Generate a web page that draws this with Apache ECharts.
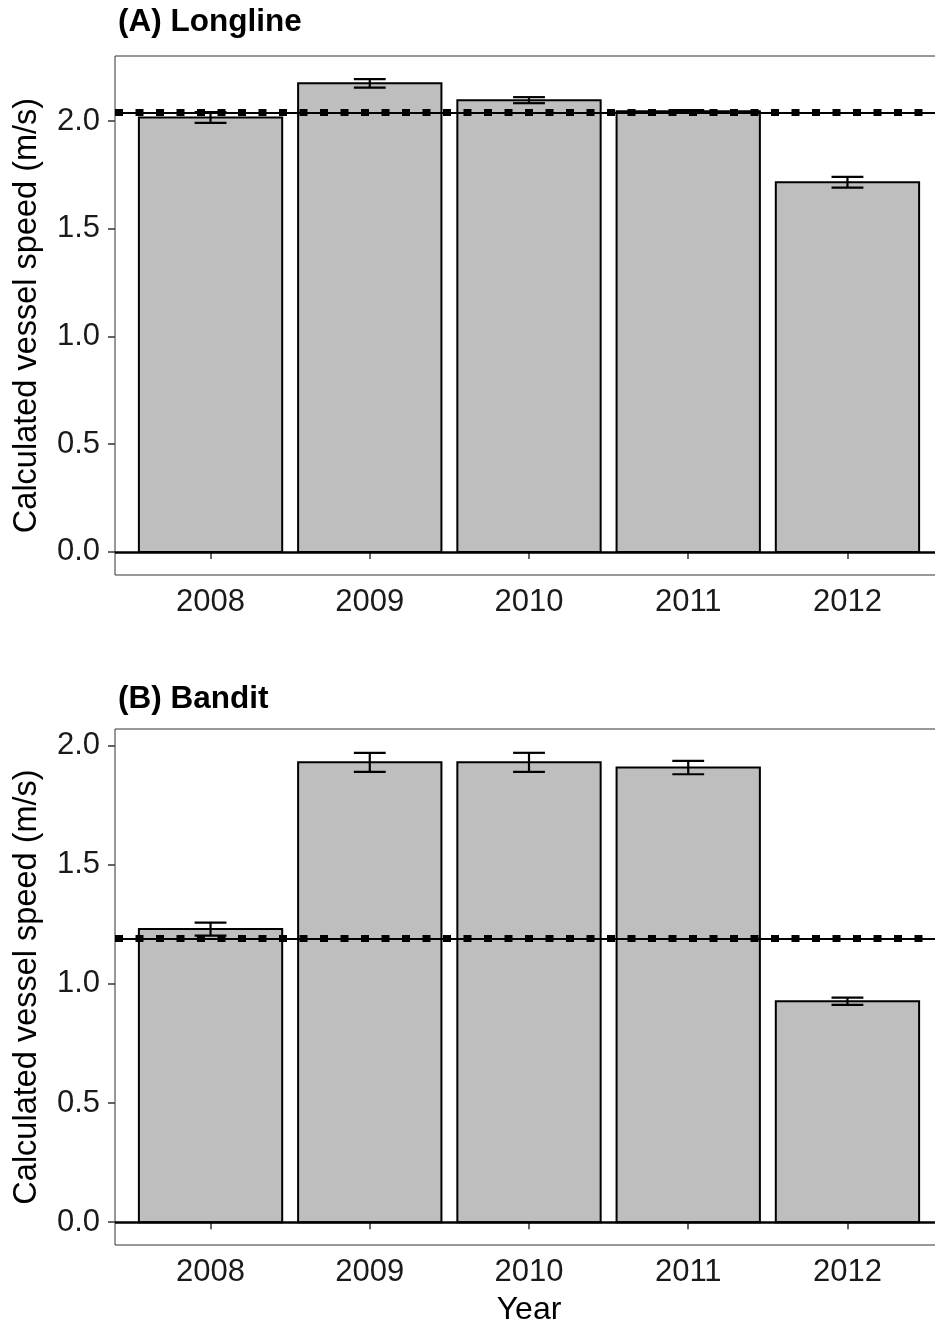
<!DOCTYPE html>
<html>
<head>
<meta charset="utf-8">
<script src="https://cdn.jsdelivr.net/npm/echarts@6/dist/echarts.min.js"></script>
<style>
  html, body { margin: 0; padding: 0; background: #fff; overflow: hidden; }
  /* the plot runs a few px past the right edge of the picture, as in the original */
  #chart { width: 945px; height: 1327px; }
</style>
</head>
<body>
<div id="chart"></div>
<script>
// data
var years = [2008, 2009, 2010, 2011, 2012];
var yTicks = [0, 0.5, 1.0, 1.5, 2.0];

// (A) Longline
var longlineSpeed = [2.017, 2.175, 2.097, 2.045, 1.716];
var longlineSE = [0.025, 0.02, 0.014, 0.006, 0.025];
var longlineMean = 2.044;

// (B) Bandit
var banditSpeed = [1.230, 1.930, 1.930, 1.908, 0.927];
var banditSE = [0.027, 0.04, 0.04, 0.028, 0.015];
var banditMean = 1.189;

var FONT = "'Liberation Sans', Arial, sans-serif";
var chart = echarts.init(document.getElementById('chart'));

// ggplot-like bars (width 0.9) drawn with the axis scales
function barSeries(idx, vals) {
  return {
    type: 'custom',
    xAxisIndex: idx,
    yAxisIndex: idx,
    z: 2,
    data: years.map(function (y, i) { return [y, vals[i]]; }),
    renderItem: function (params, api) {
      var x = api.value(0), v = api.value(1);
      var p0 = api.coord([x - 0.45, v]);
      var p1 = api.coord([x + 0.45, 0]);
      return {
        type: 'rect',
        shape: { x: p0[0], y: p0[1], width: p1[0] - p0[0], height: p1[1] - p0[1] },
        style: { fill: '#bebebe', stroke: '#000', lineWidth: 2 }
      };
    }
  };
}

// error bars + zero line + dashed overall mean
function errSeries(idx, vals, se, mean) {
  return {
    type: 'custom',
    xAxisIndex: idx,
    yAxisIndex: idx,
    z: 3,
    data: years.map(function (y, i) { return [y, vals[i], se[i]]; }),
    renderItem: function (params, api) {
      var x = api.value(0), v = api.value(1), e = api.value(2);
      var top = api.coord([x, v + e]);
      var bot = api.coord([x, v - e]);
      var l = api.coord([x - 0.1, v])[0];
      var r = api.coord([x + 0.1, v])[0];
      var st = { stroke: '#000', lineWidth: 2.2 };
      return {
        type: 'group',
        children: [
          { type: 'line', shape: { x1: top[0], y1: top[1], x2: bot[0], y2: bot[1] }, style: st },
          { type: 'line', shape: { x1: l, y1: top[1], x2: r, y2: top[1] }, style: st },
          { type: 'line', shape: { x1: l, y1: bot[1], x2: r, y2: bot[1] }, style: st }
        ]
      };
    },
    markLine: {
      silent: true,
      symbol: 'none',
      label: { show: false },
      data: [
        { yAxis: 0, lineStyle: { color: '#000', width: 2.5, type: 'solid' } },
        { yAxis: mean, lineStyle: { color: '#000', width: 2, type: 'solid' } },
        { yAxis: mean, lineStyle: { color: '#000', width: 7, type: [8, 12.5], cap: 'butt' } }
      ]
    }
  };
}

function xAxisCfg(idx, withName) {
  var a = {
    type: 'value',
    gridIndex: idx,
    min: 2007.4,
    max: 2012.6,
    splitLine: { show: false },
    axisLine: { show: false },
    axisTick: { show: true, length: 7, customValues: years, lineStyle: { color: '#333', width: 1.5 } },
    axisLabel: {
      customValues: years,
      margin: 12,
      fontFamily: FONT,
      fontSize: 31,
      color: '#1a1a1a',
      formatter: function (v) { return String(v); }
    }
  };
  if (withName) {
    a.name = 'Year';
    a.nameLocation = 'middle';
    a.nameGap = 49;
    a.nameTextStyle = { fontFamily: FONT, fontSize: 32, color: '#000' };
  }
  return a;
}

function yAxisCfg(idx, lo, hi) {
  return {
    type: 'value',
    gridIndex: idx,
    min: lo,
    max: hi,
    splitLine: { show: false },
    axisLine: { show: false },
    axisTick: { show: true, length: 7, customValues: yTicks, lineStyle: { color: '#333', width: 1.5 } },
    axisLabel: {
      customValues: yTicks,
      margin: 15,
      fontFamily: FONT,
      fontSize: 31,
      color: '#1a1a1a',
      formatter: function (v) { return v.toFixed(1); }
    },
    name: 'Calculated vessel speed (m/s)',
    nameLocation: 'middle',
    nameRotate: 90,
    nameGap: 71,
    nameTextStyle: { fontFamily: FONT, fontSize: 32.5, color: '#000' }
  };
}

var option = {
  animation: false,
  backgroundColor: '#fff',
  title: [
    { text: '(A) Longline', left: 113, top: 1, textStyle: { fontFamily: FONT, fontSize: 31.5, fontWeight: 'bold', color: '#000' } },
    { text: '(B) Bandit', left: 113, top: 678, textStyle: { fontFamily: FONT, fontSize: 31.5, fontWeight: 'bold', color: '#000' } }
  ],
  grid: [
    { left: 115, top: 56, width: 828, height: 519, show: true, borderColor: '#333', borderWidth: 1, backgroundColor: '#fff' },
    { left: 115, top: 729, width: 828, height: 518, show: true, borderColor: '#333', borderWidth: 1, backgroundColor: '#fff' }
  ],
  xAxis: [xAxisCfg(0, false), xAxisCfg(1, true)],
  yAxis: [yAxisCfg(0, -0.107, 2.302), yAxisCfg(1, -0.096, 2.07)],
  series: [
    barSeries(0, longlineSpeed),
    errSeries(0, longlineSpeed, longlineSE, longlineMean),
    barSeries(1, banditSpeed),
    errSeries(1, banditSpeed, banditSE, banditMean)
  ]
};

chart.setOption(option);
</script>
</body>
</html>
